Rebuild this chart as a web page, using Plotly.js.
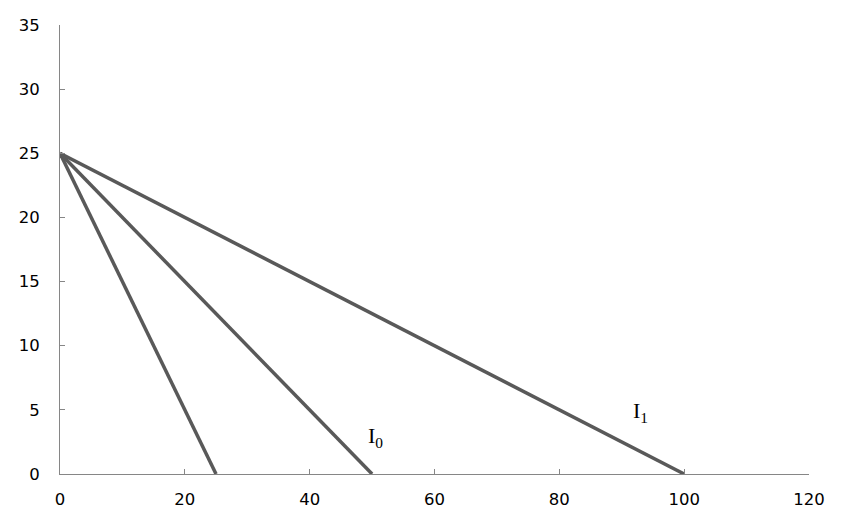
<!DOCTYPE html>
<html><head><meta charset="utf-8">
<script src="https://cdn.plot.ly/plotly-3.0.1.min.js"></script>
<style>html,body{margin:0;padding:0;background:#fff}#c{width:842px;height:525px}</style>
</head><body><div id="c"></div>
<script>
// Lines from common intercept to x-intercepts
const startX = 0, startY = 25;
const endXs = [25, 50, 100];
const endY = 0;
const lineNames = ["A", "I0", "I1"];
const labelTexts = ["I<sub>0</sub>", "I<sub>1</sub>"];
const labelX = [50.6, 93.0];
const labelY = [2.9, 4.8];
const xTicks = [0, 20, 40, 60, 80, 100, 120];
const yTicks = [0, 5, 10, 15, 20, 25, 30, 35];

const traces = endXs.map((ex, i) => ({
  x: [startX, ex], y: [startY, endY], mode: 'lines', name: lineNames[i],
  line: {color: '#595959', width: 3.5}, hoverinfo: 'skip', showlegend: false, cliponaxis: false
}));

const annotations = labelTexts.map((t, i) => ({
  x: labelX[i], y: labelY[i], xref: 'x', yref: 'y', text: t, showarrow: false,
  font: {family: 'Liberation Serif, Times New Roman, serif', size: 22, color: '#000'}
}));

const axisCommon = {
  showgrid: false, zeroline: false, showline: true, linecolor: '#868686', linewidth: 1,
  ticks: 'inside', ticklen: 5, tickcolor: '#868686', tickwidth: 1,
  tickfont: {family: 'DejaVu Sans, sans-serif', size: 16.5, color: '#000'},
  fixedrange: true
};

const layout = {
  width: 842, height: 525,
  margin: {l: 60, r: 33, t: 25, b: 51},
  paper_bgcolor: '#fff', plot_bgcolor: '#fff',
  showlegend: false,
  xaxis: Object.assign({}, axisCommon, {range: [0, 120], tickvals: xTicks, ticktext: xTicks.map(String), ticklabelstandoff: 10}),
  yaxis: Object.assign({}, axisCommon, {range: [0, 35], tickvals: yTicks, ticktext: yTicks.map(String), ticklabelstandoff: 16}),
  annotations: annotations
};

Plotly.newPlot('c', traces, layout, {displayModeBar: false, staticPlot: true});
</script></body></html>
